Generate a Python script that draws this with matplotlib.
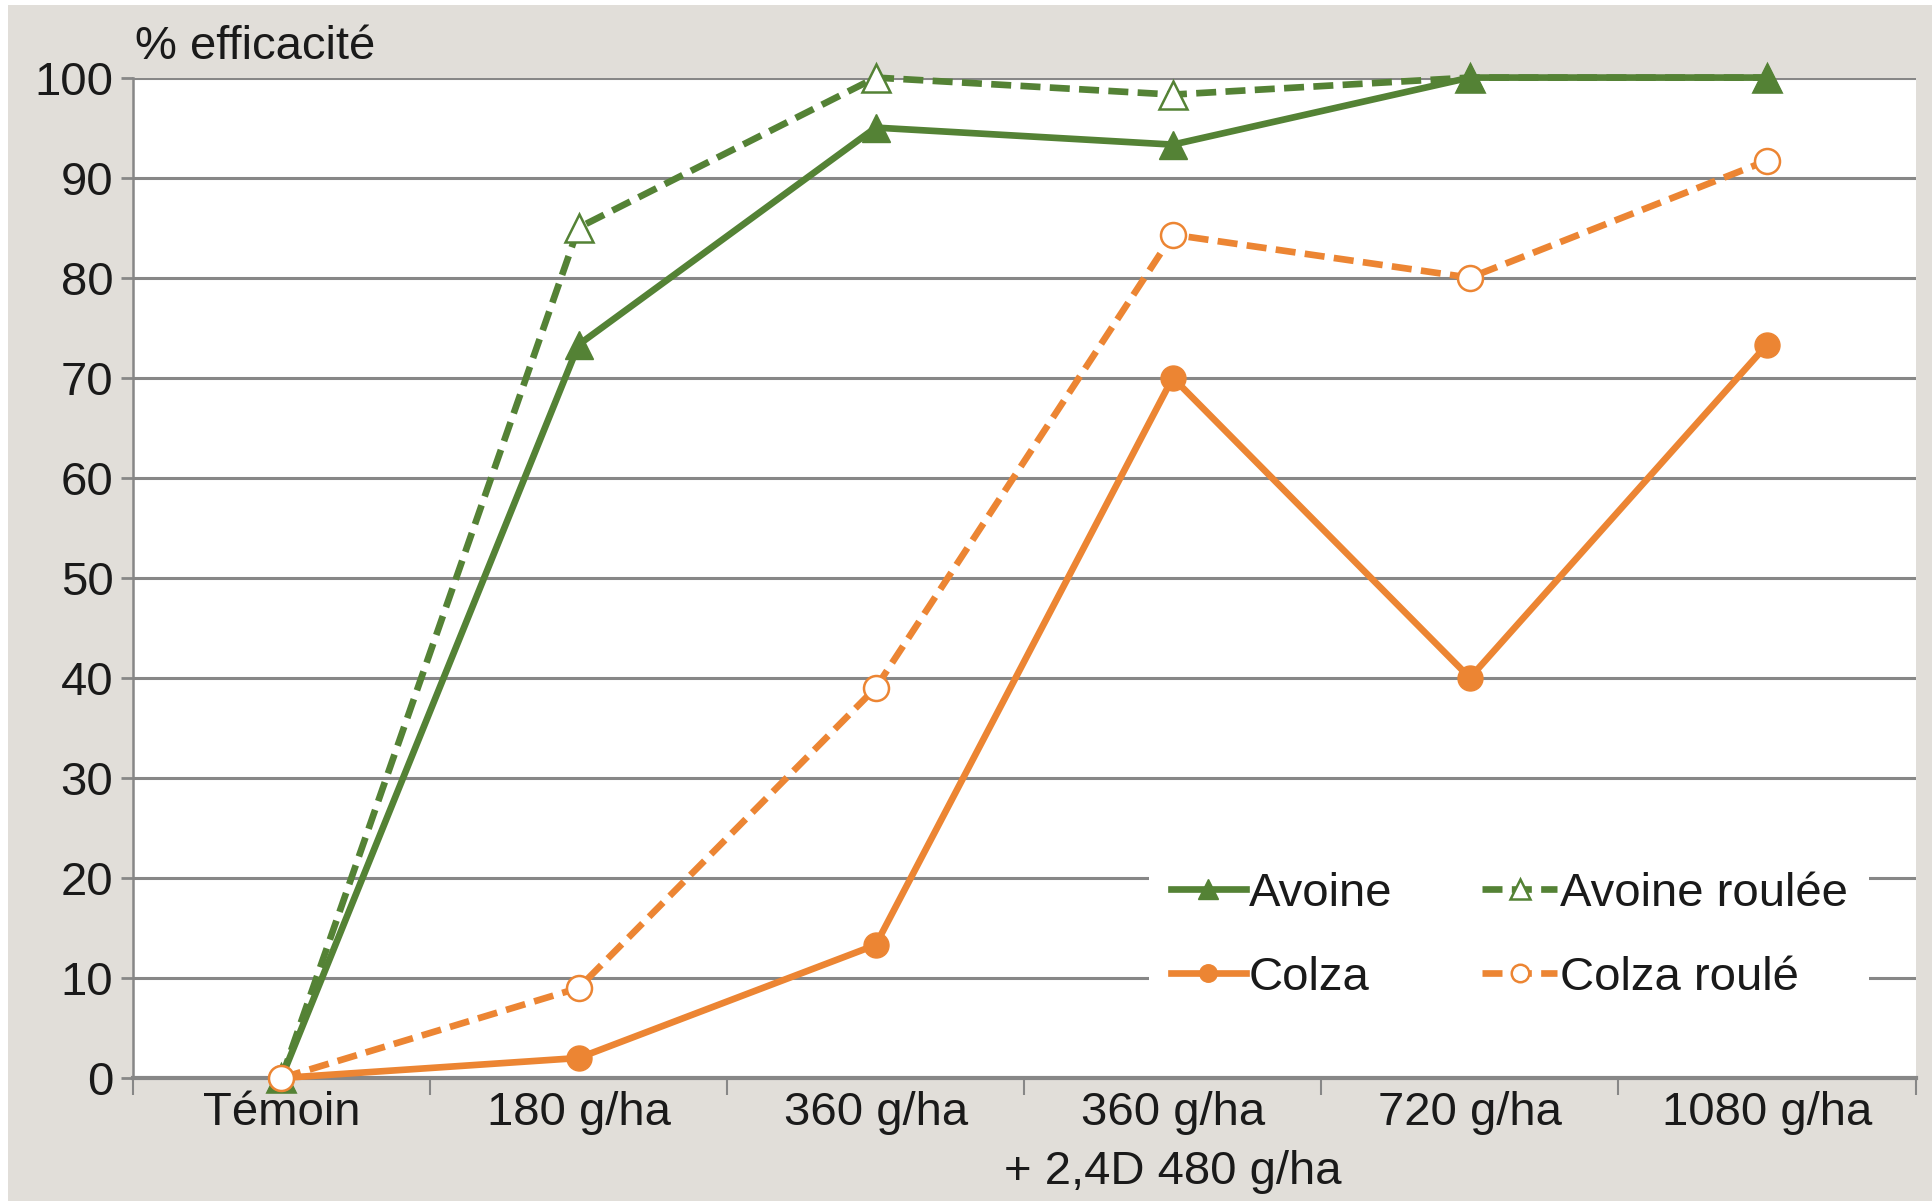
import matplotlib.pyplot as plt
from matplotlib.patches import Rectangle
from matplotlib.ticker import FixedLocator

plt.rcParams['font.family'] = ['Liberation Sans Narrow', 'Liberation Sans', 'DejaVu Sans']

# Data
categories = ['Témoin', '180 g/ha', '360 g/ha', '360 g/ha\n+ 2,4D 480 g/ha', '720 g/ha', '1080 g/ha']
avoine = [0, 73.3, 95, 93.3, 100, 100]
avoine_roulee = [0, 85, 100, 98.3, 100, 100]
colza = [0, 2, 13.3, 70, 40, 73.3]
colza_roule = [0, 9, 39, 84.3, 80, 91.7]

green = '#548235'
orange = '#EC8533'
grid_col = '#878787'
bg = '#E1DED9'
txt = '#1a1a1a'
fs = 34

fig = plt.figure(figsize=(19.32, 12.01), dpi=100, facecolor='white')
# gray panel behind the chart (thin white margin top and left)
fig.patches.append(Rectangle((8 / 1932, 0), 1, 1 - 5 / 1201, transform=fig.transFigure,
                             facecolor=bg, edgecolor='none', zorder=-10))

ax = fig.add_axes([0.0688, 0.1024, 0.9915 - 0.0688, 0.9354 - 0.1024])
ax.set_facecolor('white')
x = list(range(len(categories)))

lw = 4.8
da = (3.0, 1.4)
l1, = ax.plot(x, avoine, color=green, lw=lw, marker='^', ms=20, mfc=green, mec=green,
              label='Avoine', clip_on=False, zorder=4)
l2, = ax.plot(x, avoine_roulee, color=green, lw=lw, dashes=da, marker='^', ms=20,
              mfc='white', mec=green, mew=1.8, label='Avoine roulée', clip_on=False, zorder=3)
l3, = ax.plot(x, colza, color=orange, lw=lw, marker='o', ms=18, mfc=orange, mec=orange,
              label='Colza', clip_on=False, zorder=4)
l4, = ax.plot(x, colza_roule, color=orange, lw=lw, dashes=da, marker='o', ms=18,
              mfc='white', mec=orange, mew=1.8, label='Colza roulé', clip_on=False, zorder=5)

ax.set_xlim(-0.5, len(categories) - 0.5)
ax.set_ylim(0, 100)
ax.set_yticks(range(0, 101, 10))
ax.set_xticks(x)
ax.set_xticklabels(categories, fontsize=fs, color=txt, linespacing=1.45)
ax.xaxis.set_minor_locator(FixedLocator([i - 0.5 for i in range(len(categories) + 1)]))
ax.tick_params(axis='x', which='major', length=0, pad=9)
ax.tick_params(axis='x', which='minor', length=12, width=1.5, color=grid_col)
ax.tick_params(axis='y', length=9, width=2, color=grid_col, labelsize=fs, labelcolor=txt, pad=5)

ax.grid(axis='y', color=grid_col, lw=2.2, zorder=0)
ax.set_axisbelow(True)
for s in ['top', 'right']:
    ax.spines[s].set_visible(False)
ax.spines['left'].set_color(grid_col)
ax.spines['left'].set_linewidth(1.8)
ax.spines['bottom'].set_color(grid_col)
ax.spines['bottom'].set_linewidth(3)

fig.text(135 / 1932, 1 - 47 / 1201, '% efficacité', fontsize=fs, color=txt, ha='left', va='center')

leg = ax.legend([l1, l3, l2, l4], ['Avoine', 'Colza', 'Avoine roulée', 'Colza roulé'],
                ncol=2, loc='center', bbox_to_anchor=(0.772, 0.142), fontsize=fs,
                frameon=True, facecolor='white', edgecolor='none', framealpha=1, fancybox=False,
                handlelength=1.6, handletextpad=0.05, columnspacing=1.9, labelspacing=0.85,
                borderpad=0.45, markerscale=0.7)
for t in leg.get_texts():
    t.set_color(txt)

fig.savefig('out.png', dpi=100, facecolor=fig.get_facecolor())
